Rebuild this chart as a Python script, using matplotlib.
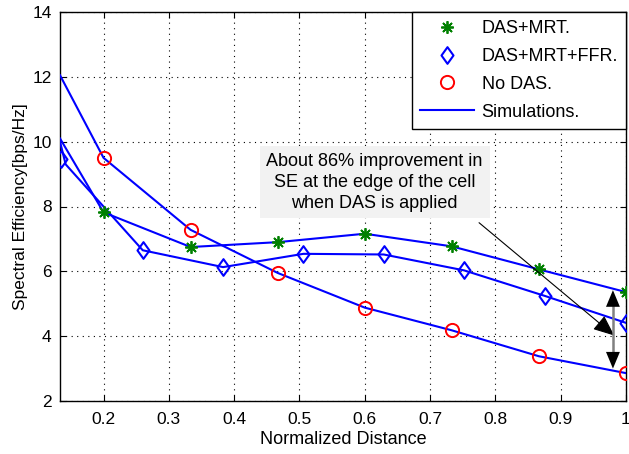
import matplotlib
matplotlib.use("Agg")
import matplotlib.pyplot as plt
from matplotlib.patches import Rectangle
from matplotlib.lines import Line2D
from matplotlib.path import Path

plt.rcParams['font.family'] = ['Liberation Sans', 'DejaVu Sans']

# marker data
x_grid = [0.2, 0.3333, 0.4667, 0.6, 0.7333, 0.8667, 1.0]
mrt = [7.82, 6.75, 6.90, 7.16, 6.77, 6.06, 5.36]
nodas = [9.50, 7.28, 5.95, 4.88, 4.18, 3.38, 2.86]
x_ffr = [0.135, 0.26, 0.383, 0.506, 0.629, 0.752, 0.876, 1.0]
ffr = [9.45, 6.65, 6.13, 6.54, 6.52, 6.03, 5.24, 4.41]

# simulation curves
sim_x = [0.1333, 0.2, 0.3333, 0.4667, 0.6, 0.7333, 0.8667, 1.0]
sim_mrt = [10.1, 7.82, 6.75, 6.90, 7.16, 6.77, 6.06, 5.36]
sim_nodas = [12.05, 9.50, 7.28, 5.95, 4.88, 4.18, 3.38, 2.86]
sim_x_ffr = [0.1333, 0.142, 0.26, 0.383, 0.506, 0.629, 0.752, 0.876, 1.0]
sim_ffr = [10.0, 9.3, 6.65, 6.13, 6.54, 6.52, 6.03, 5.24, 4.41]

xticks = [0.2, 0.3, 0.4, 0.5, 0.6, 0.7, 0.8, 0.9, 1.0]
xticklabels = ['0.2', '0.3', '0.4', '0.5', '0.6', '0.7', '0.8', '0.9', '1']
yticks = [2, 4, 6, 8, 10, 12, 14]

fig = plt.figure(figsize=(6.29, 4.54), dpi=100)
ax = fig.add_axes([60/629, 1-401/454, 566/629, 389/454])

blue = '#0000ff'
ax.plot(sim_x, sim_mrt, color=blue, lw=1.5, zorder=3)
ax.plot(sim_x_ffr, sim_ffr, color=blue, lw=1.5, zorder=3)
ax.plot(sim_x, sim_nodas, color=blue, lw=1.5, zorder=3)

diamond = Path([(0, 1), (0.72, 0), (0, -1), (-0.72, 0), (0, 1)],
               [Path.MOVETO, Path.LINETO, Path.LINETO, Path.LINETO, Path.CLOSEPOLY])

h1, = ax.plot(x_grid, mrt, ls='none', marker=(8, 2, 0), ms=9, mew=1.3,
              color='#008000', label='DAS+MRT.', zorder=4)
h2, = ax.plot(x_ffr, ffr, ls='none', marker=diamond, ms=12, mew=1.5,
              mfc='none', mec=blue, label='DAS+MRT+FFR.', zorder=4)
h3, = ax.plot(x_grid, nodas, ls='none', marker='o', ms=9.5, mew=1.4,
              mfc='none', mec='#ff0000', label='No DAS.', zorder=4)
h4 = Line2D([], [], color=blue, lw=1.5, label='Simulations.')

ax.set_xlim(0.1333, 1.0)
ax.set_ylim(2, 14)
ax.set_xticks(xticks)
ax.set_xticklabels(xticklabels)
ax.set_yticks(yticks)
ax.tick_params(direction='in', top=True, right=True, labelsize=12.5, length=4)
ax.tick_params(axis='x', pad=8)
ax.tick_params(axis='y', pad=6)
ax.grid(True, ls=(0, (1, 4)), color='black', lw=0.8)
for s in ax.spines.values():
    s.set_linewidth(1.0)

ax.set_xlabel('Normalized Distance', fontsize=13, labelpad=3)
ax.set_ylabel('Spectral Efficiency[bps/Hz]', fontsize=12.5, labelpad=3)

leg = ax.legend(handles=[h1, h2, h3, h4], loc='upper right', fontsize=13,
                borderaxespad=0, fancybox=False, framealpha=1,
                edgecolor='black', handlelength=3.0, labelspacing=0.6,
                handletextpad=0.4, borderpad=0.45)
leg.get_frame().set_linewidth(1.0)
leg.set_zorder(10)

# annotation box
rect = Rectangle((0.44, 7.66), 0.351, 2.22, facecolor='#f2f2f2',
                 edgecolor='none', zorder=2.5)
ax.add_patch(rect)
ax.text(0.615, 8.74, 'About 86% improvement in\nSE at the edge of the cell\nwhen DAS is applied',
        ha='center', va='center', fontsize=13, linespacing=1.32, zorder=5)

ax.annotate('', xy=(0.982, 4.02), xytext=(0.775, 7.5),
            arrowprops=dict(arrowstyle='-|>,head_length=1.3,head_width=0.55',
                            color='black', lw=0.8, shrinkA=0, shrinkB=0),
            zorder=6)
# double-headed vertical arrow: gray shaft, black heads
ax.plot([0.98, 0.98], [3.3, 5.1], color='#808080', lw=1.8, zorder=6)
ax.annotate('', xy=(0.98, 5.42), xytext=(0.98, 4.6),
            arrowprops=dict(arrowstyle='-|>,head_length=1.2,head_width=0.5',
                            color='black', lw=0, shrinkA=0, shrinkB=0),
            zorder=7)
ax.annotate('', xy=(0.98, 3.0), xytext=(0.98, 3.8),
            arrowprops=dict(arrowstyle='-|>,head_length=1.2,head_width=0.5',
                            color='black', lw=0, shrinkA=0, shrinkB=0),
            zorder=7)

fig.savefig('out.png', dpi=100)
